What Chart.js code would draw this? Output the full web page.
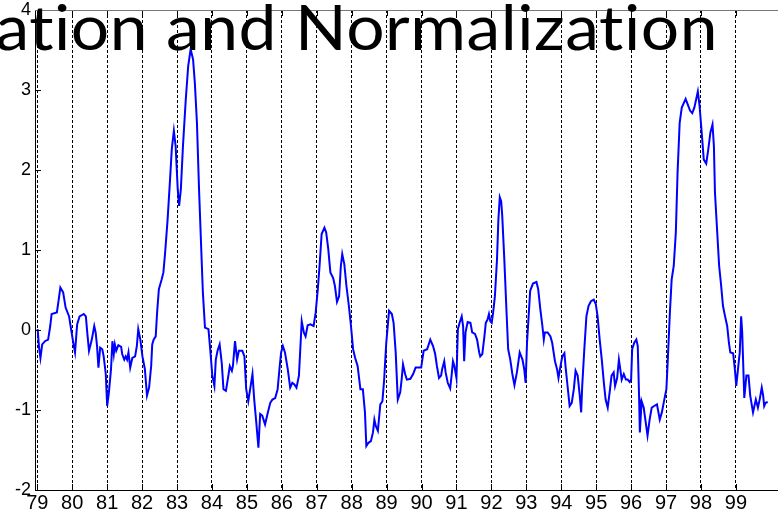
<!DOCTYPE html>
<html>
<head>
<meta charset="utf-8">
<script src="https://cdn.jsdelivr.net/npm/chart.js@4.4.0/dist/chart.umd.min.js"></script>
<style>
    html, body { margin: 0; padding: 0; background: #fff; overflow: hidden; }
    #wrap { position: absolute; left: 0; top: 0; width: 778px; height: 530px; }
</style>
</head>
<body>
<div id="wrap"><canvas id="chart" width="778" height="530"></canvas></div>
<script>
const titleText = 'ation and Normalization';

const tickYears = [79, 80, 81, 82, 83, 84, 85, 86, 87, 88, 89, 90, 91, 92, 93, 94, 95, 96, 97, 98, 99];
const yTicks = [-2, -1, 0, 1, 2, 3, 4];

// decimal year (79 = 1979)
const years = [
    79.01, 79.05, 79.09, 79.14, 79.22, 79.31, 79.37, 79.41, 79.56, 79.60,
    79.66, 79.74, 79.81, 79.91, 79.96, 80.03, 80.08, 80.14, 80.21, 80.33,
    80.39, 80.44, 80.48, 80.56, 80.63, 80.67, 80.71, 80.75, 80.80, 80.86,
    80.90, 80.96, 81.00, 81.05, 81.11, 81.15, 81.19, 81.22, 81.26, 81.32,
    81.40, 81.43, 81.49, 81.53, 81.57, 81.61, 81.66, 81.72, 81.80, 81.85,
    81.89, 81.95, 82.01, 82.08, 82.14, 82.20, 82.26, 82.29, 82.33, 82.39,
    82.43, 82.48,
    82.56, 82.61, 82.66, 82.73, 82.80, 82.85, 82.91, 82.96, 83.02, 83.06,
    83.11, 83.17, 83.25, 83.32, 83.39, 83.46, 83.51, 83.57, 83.63, 83.69,
    83.74, 83.80, 83.90, 83.95, 84.01, 84.07, 84.11, 84.16, 84.22, 84.28,
    84.33, 84.40, 84.47, 84.51, 84.57, 84.60, 84.66, 84.72, 84.77, 84.87,
    84.93, 84.98, 85.04, 85.10, 85.16, 85.21, 85.27, 85.33, 85.38, 85.44,
    85.52, 85.60, 85.67, 85.73, 85.81,
    85.88, 85.94, 85.98, 86.03, 86.09, 86.17, 86.24, 86.30, 86.36, 86.42,
    86.49, 86.57, 86.63, 86.68, 86.74, 86.82, 86.91, 86.97, 87.03, 87.08,
    87.14, 87.22, 87.27, 87.33, 87.39, 87.47, 87.52, 87.58, 87.64, 87.69,
    87.73, 87.79, 87.85, 87.92, 87.98, 88.04, 88.10, 88.17, 88.25, 88.32,
    88.38, 88.42, 88.48, 88.55, 88.61, 88.65, 88.69, 88.75, 88.82, 88.88,
    88.93, 88.99, 89.07, 89.15, 89.20, 89.26,
    89.32, 89.39, 89.43, 89.47, 89.53, 89.58, 89.68, 89.76, 89.83, 89.99,
    90.06, 90.16, 90.25, 90.33, 90.39, 90.44, 90.50, 90.56, 90.59, 90.65,
    90.69, 90.75, 90.82, 90.86, 90.90, 90.94, 91.00, 91.04, 91.09, 91.15,
    91.19, 91.22, 91.26, 91.32, 91.40, 91.45, 91.53, 91.59, 91.65, 91.68,
    91.74, 91.80, 91.84, 91.89, 91.93, 91.97, 92.01, 92.05, 92.10, 92.16,
    92.20, 92.24, 92.28, 92.31, 92.37, 92.43, 92.48, 92.54, 92.60, 92.66,
    92.73, 92.81,
    92.89, 92.94, 92.98, 93.02, 93.06, 93.11, 93.19, 93.29, 93.34, 93.40,
    93.46, 93.50, 93.53, 93.61, 93.69, 93.74, 93.82, 93.88, 93.92, 93.97,
    94.03, 94.09, 94.13, 94.18, 94.24, 94.30, 94.36, 94.41, 94.47, 94.53,
    94.57, 94.60, 94.66, 94.72, 94.78, 94.85, 94.93, 94.99, 95.04, 95.10,
    95.16, 95.22, 95.27, 95.33, 95.39, 95.44, 95.50, 95.54, 95.60, 95.65,
    95.69, 95.73, 95.79, 95.85, 95.90, 95.96, 96.00, 96.03, 96.09, 96.15,
    96.19, 96.23, 96.25,
    96.30, 96.36, 96.42, 96.47, 96.53, 96.59, 96.66, 96.74, 96.82, 96.88,
    96.95, 97.01, 97.05, 97.11, 97.16, 97.22, 97.28, 97.33, 97.39, 97.45,
    97.51, 97.56, 97.62, 97.69, 97.75, 97.81, 97.87, 97.91, 97.96, 98.02,
    98.08, 98.15, 98.21, 98.27, 98.33, 98.37, 98.40, 98.46, 98.52, 98.57,
    98.63, 98.69, 98.75, 98.80, 98.84, 98.92, 98.97, 99.01, 99.05, 99.11,
    99.15, 99.18, 99.24, 99.30, 99.36, 99.41, 99.49, 99.57, 99.63, 99.68,
    99.74, 99.78, 99.81, 99.85, 99.91
];

const values = [
    0.01, -0.22, -0.35, -0.18, -0.14, -0.12, 0.05, 0.20, 0.22, 0.34,
    0.53, 0.47, 0.28, 0.17, 0.03, -0.16, -0.28, 0.07, 0.17, 0.20,
    0.17, -0.08, -0.26, -0.12, 0.05, -0.03, -0.20, -0.47, -0.22, -0.24,
    -0.33, -0.55, -0.95, -0.78, -0.49, -0.14, -0.30, -0.18, -0.26, -0.19,
    -0.21, -0.30, -0.37, -0.33, -0.37, -0.28, -0.47, -0.35, -0.33, -0.20,
    0.01, -0.12, -0.33, -0.49, -0.82, -0.72, -0.45, -0.18, -0.12, -0.08,
    0.22, 0.51,
    0.63, 0.72, 0.97, 1.38, 1.88, 2.26, 2.49, 2.30, 1.76, 1.55,
    1.76, 2.30, 2.88, 3.30, 3.51, 3.38, 3.09, 2.59, 1.76, 1.05,
    0.47, 0.03, 0.01, -0.24, -0.57, -0.70, -0.37, -0.26, -0.18, -0.41,
    -0.74, -0.76, -0.57, -0.45, -0.51, -0.45, -0.14, -0.37, -0.26, -0.26,
    -0.33, -0.74, -0.89, -0.72, -0.55, -0.87, -1.16, -1.47, -1.05, -1.07,
    -1.18, -1.03, -0.91, -0.87, -0.85,
    -0.74, -0.45, -0.28, -0.20, -0.28, -0.49, -0.72, -0.66, -0.68, -0.72,
    -0.57, 0.11, -0.03, -0.08, 0.06, 0.07, 0.05, 0.22, 0.51, 0.80,
    1.20, 1.28, 1.22, 1.01, 0.72, 0.65, 0.55, 0.35, 0.42, 0.80,
    0.95, 0.82, 0.55, 0.30, 0.05, -0.24, -0.35, -0.45, -0.74, -0.74,
    -1.03, -1.45, -1.41, -1.39, -1.28, -1.12, -1.20, -1.26, -0.93, -0.89,
    -0.62, -0.16, 0.24, 0.20, 0.09, -0.28,
    -0.87, -0.78, -0.62, -0.43, -0.55, -0.62, -0.61, -0.55, -0.47, -0.47,
    -0.26, -0.24, -0.12, -0.20, -0.30, -0.45, -0.60, -0.57, -0.49, -0.39,
    -0.53, -0.66, -0.73, -0.57, -0.39, -0.45, -0.60, 0.01, 0.09, 0.17,
    0.05, -0.39, -0.03, 0.10, 0.09, -0.03, -0.05, -0.12, -0.28, -0.33,
    -0.30, -0.08, 0.09, 0.13, 0.20, 0.11, 0.09, 0.22, 0.42, 0.88,
    1.38, 1.66, 1.61, 1.43, 0.88, 0.26, -0.24, -0.37, -0.55, -0.69,
    -0.53, -0.28,
    -0.37, -0.49, -0.66, -0.16, 0.13, 0.49, 0.58, 0.60, 0.51, 0.26,
    0.05, -0.12, -0.03, -0.03, -0.08, -0.16, -0.39, -0.49, -0.60, -0.47,
    -0.33, -0.29, -0.49, -0.70, -0.95, -0.91, -0.74, -0.51, -0.57, -0.82,
    -1.03, -0.70, -0.24, 0.17, 0.30, 0.36, 0.38, 0.32, 0.17, -0.12,
    -0.37, -0.66, -0.87, -0.97, -0.76, -0.57, -0.53, -0.70, -0.60, -0.37,
    -0.49, -0.62, -0.55, -0.62, -0.62, -0.65, -0.62, -0.24, -0.16, -0.12,
    -0.20, -0.87, -1.28,
    -0.89, -0.97, -1.16, -1.32, -1.12, -0.97, -0.95, -0.93, -1.12, -1.03,
    -0.87, -0.74, -0.37, 0.22, 0.63, 0.80, 1.22, 1.97, 2.59, 2.78,
    2.84, 2.89, 2.82, 2.74, 2.71, 2.78, 2.90, 2.98, 2.80, 2.47,
    2.13, 2.08, 2.26, 2.47, 2.57, 2.30, 1.72, 1.26, 0.80, 0.59,
    0.30, 0.17, 0.05, -0.16, -0.28, -0.29, -0.49, -0.70, -0.53, -0.28,
    0.17, -0.03, -0.85, -0.57, -0.57, -0.82, -1.03, -0.87, -0.97, -0.87,
    -0.72, -0.82, -0.95, -0.91, -0.90
];

const xFont = { family: "'Liberation Sans', Arial, sans-serif", size: 20 };
const yFont = { family: "'Liberation Sans', Arial, sans-serif", size: 18 };

// inward tick marks and the grey top edge, like a MATLAB axes box
const framePlugin = {
    id: 'frame',
    afterDatasetsDraw(chart) {
        const { ctx, chartArea: a, scales: { x, y } } = chart;
        ctx.save();
        ctx.strokeStyle = '#000';
        ctx.lineWidth = 1;
        ctx.beginPath();
        yTicks.forEach(v => {
            const py = Math.round(y.getPixelForValue(v)) + 0.5;
            ctx.moveTo(a.left, py);
            ctx.lineTo(a.left + 6, py);
        });
        tickYears.forEach(v => {
            const px = Math.round(x.getPixelForValue(v)) + 0.5;
            ctx.moveTo(px, a.bottom);
            ctx.lineTo(px, a.bottom - 6);
            ctx.moveTo(px, a.top);
            ctx.lineTo(px, a.top + 6);
        });
        ctx.stroke();
        ctx.strokeStyle = '#777';
        ctx.beginPath();
        ctx.moveTo(a.left, a.top + 0.5);
        ctx.lineTo(a.right, a.top + 0.5);
        ctx.stroke();
        ctx.restore();
    }
};

// slide title that runs off the left edge and over the axes
const titlePlugin = {
    id: 'slideTitle',
    afterDraw(chart) {
        const { ctx } = chart;
        ctx.save();
        ctx.font = '62px Lato, "Open Sans", sans-serif';
        ctx.letterSpacing = '0.5px'; // also stops the "ti" ligature
        const wFull = ctx.measureText(titleText).width;
        const wHead = ctx.measureText('ation ').width;
        const k = (718 - 166) / (wFull - wHead);
        const x0 = 166 - k * wHead;
        ctx.translate(x0, 50);
        ctx.scale(k, 1);
        ctx.fillStyle = '#000';
        ctx.textBaseline = 'alphabetic';
        ctx.fillText(titleText, 0, 0);
        ctx.restore();
    }
};

const ctx = document.getElementById('chart').getContext('2d');

new Chart(ctx, {
    type: 'line',
    data: {
        datasets: [{
            data: years.map((yr, i) => ({ x: yr, y: values[i] })),
            borderColor: '#0000ff',
            borderWidth: 2,
            pointRadius: 0,
            tension: 0,
            fill: false
        }]
    },
    options: {
        responsive: false,
        animation: false,
        events: [],
        layout: { padding: { top: 10, left: 0, right: 0, bottom: 0 } },
        plugins: {
            legend: { display: false },
            tooltip: { enabled: false }
        },
        scales: {
            x: {
                type: 'linear',
                min: 78.934,
                max: 100.205,
                afterBuildTicks: s => { s.ticks = tickYears.map(v => ({ value: v })); },
                afterFit: s => { s.height = 40; s.paddingLeft = 0; s.paddingRight = 0; },
                ticks: {
                    font: xFont,
                    color: '#000',
                    padding: 1,
                    maxRotation: 0,
                    autoSkip: false,
                    callback: v => String(v)
                },
                grid: { color: '#000', lineWidth: 1, drawTicks: false },
                border: { display: true, color: '#000', width: 1, dash: [3, 2] }
            },
            y: {
                min: -2,
                max: 4,
                afterBuildTicks: s => { s.ticks = yTicks.map(v => ({ value: v })); },
                afterFit: s => { s.width = 35; s.paddingTop = 0; s.paddingBottom = 0; },
                ticks: { font: yFont, color: '#000', padding: 4 },
                grid: { display: false, drawTicks: false },
                border: { display: true, color: '#000', width: 1 }
            }
        }
    },
    plugins: [framePlugin, titlePlugin]
});
</script>
</body>
</html>
